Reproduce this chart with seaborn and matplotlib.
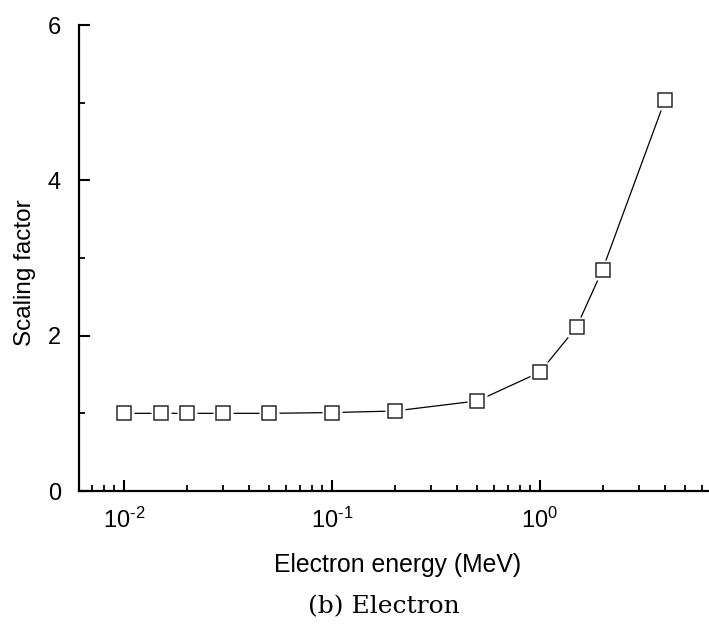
import numpy as np
import pandas as pd
import matplotlib
matplotlib.use("Agg")
import matplotlib.pyplot as plt
import seaborn as sns
from matplotlib.ticker import LogLocator, MultipleLocator, NullFormatter, FuncFormatter

energy = [0.01, 0.015, 0.02, 0.03, 0.05, 0.1, 0.2, 0.5, 1.0, 1.5, 2.0, 4.0]
scaling = [1.0, 1.0, 1.0, 1.0, 1.0, 1.01, 1.03, 1.16, 1.53, 2.11, 2.85, 5.04]
xlabel = "Electron energy (MeV)"
ylabel = "Scaling factor"
caption = "(b) Electron"

df = pd.DataFrame({"energy": energy, "scaling": scaling})

sns.set_theme(style="ticks")
plt.rcParams["font.family"] = ["Liberation Sans", "DejaVu Sans"]
plt.rcParams["mathtext.fontset"] = "custom"
plt.rcParams["mathtext.rm"] = "Liberation Sans"
plt.rcParams["mathtext.it"] = "Liberation Sans:italic"
plt.rcParams["text.color"] = "black"
plt.rcParams["axes.labelcolor"] = "black"

fig = plt.figure(figsize=(7.09, 6.24), dpi=100)
ax = fig.add_axes([79/709, 133/624, 1 - 79/709, (491-25)/624])

sns.lineplot(data=df, x="energy", y="scaling", ax=ax, color="black", linewidth=0.9, zorder=2)
# white halo to create gaps between line and markers
ax.plot(df["energy"], df["scaling"], linestyle="none", marker="s", markersize=13.8,
        markerfacecolor="white", markeredgecolor="none", zorder=3)
ax.plot(df["energy"], df["scaling"], linestyle="none", marker="s", markersize=9.8,
        markerfacecolor="white", markeredgecolor="#2a2a2a", markeredgewidth=1.1, zorder=4)

ax.set_xscale("log")
ax.set_xlim(0.00608, 6.5)
ax.set_ylim(0, 6)
ax.yaxis.set_major_locator(MultipleLocator(2))
ax.yaxis.set_minor_locator(MultipleLocator(1))
ax.xaxis.set_major_locator(LogLocator(base=10, numticks=10))
ax.xaxis.set_minor_locator(LogLocator(base=10, subs=np.arange(2, 10), numticks=20))
ax.xaxis.set_minor_formatter(NullFormatter())


def logfmt(v, pos):
    e = int(round(np.log10(v)))
    if e < 0:
        return r"10$^{\text{-}%d}$" % (-e)
    return r"10$^{%d}$" % e


ax.xaxis.set_major_formatter(FuncFormatter(logfmt))

for s in ["top", "right"]:
    ax.spines[s].set_visible(False)
for s in ["left", "bottom"]:
    ax.spines[s].set_linewidth(1.6)
    ax.spines[s].set_color("black")

ax.tick_params(which="major", direction="in", length=8, width=1.5, labelsize=17,
               colors="black", labelcolor="black", pad=12)
ax.tick_params(which="minor", direction="in", length=4.5, width=1.3, colors="black")
ax.tick_params(axis="y", which="major", pad=13)

ax.set_xlabel("")
ax.set_ylabel("")
fig.text(25/709, 1 - 273/624, ylabel, ha="center", va="center", rotation=90,
         fontsize=17.5, color="black")
fig.text(398/709, 1 - 565/624, xlabel, ha="center", va="center",
         fontsize=17.8, color="black")
fig.text(0.5 + 79/709/2 - 10/709, 1 - 607/624, caption, ha="center", va="center",
         fontsize=18, family=["DejaVu Serif"], color="black")

fig.savefig("out.png", dpi=100)
